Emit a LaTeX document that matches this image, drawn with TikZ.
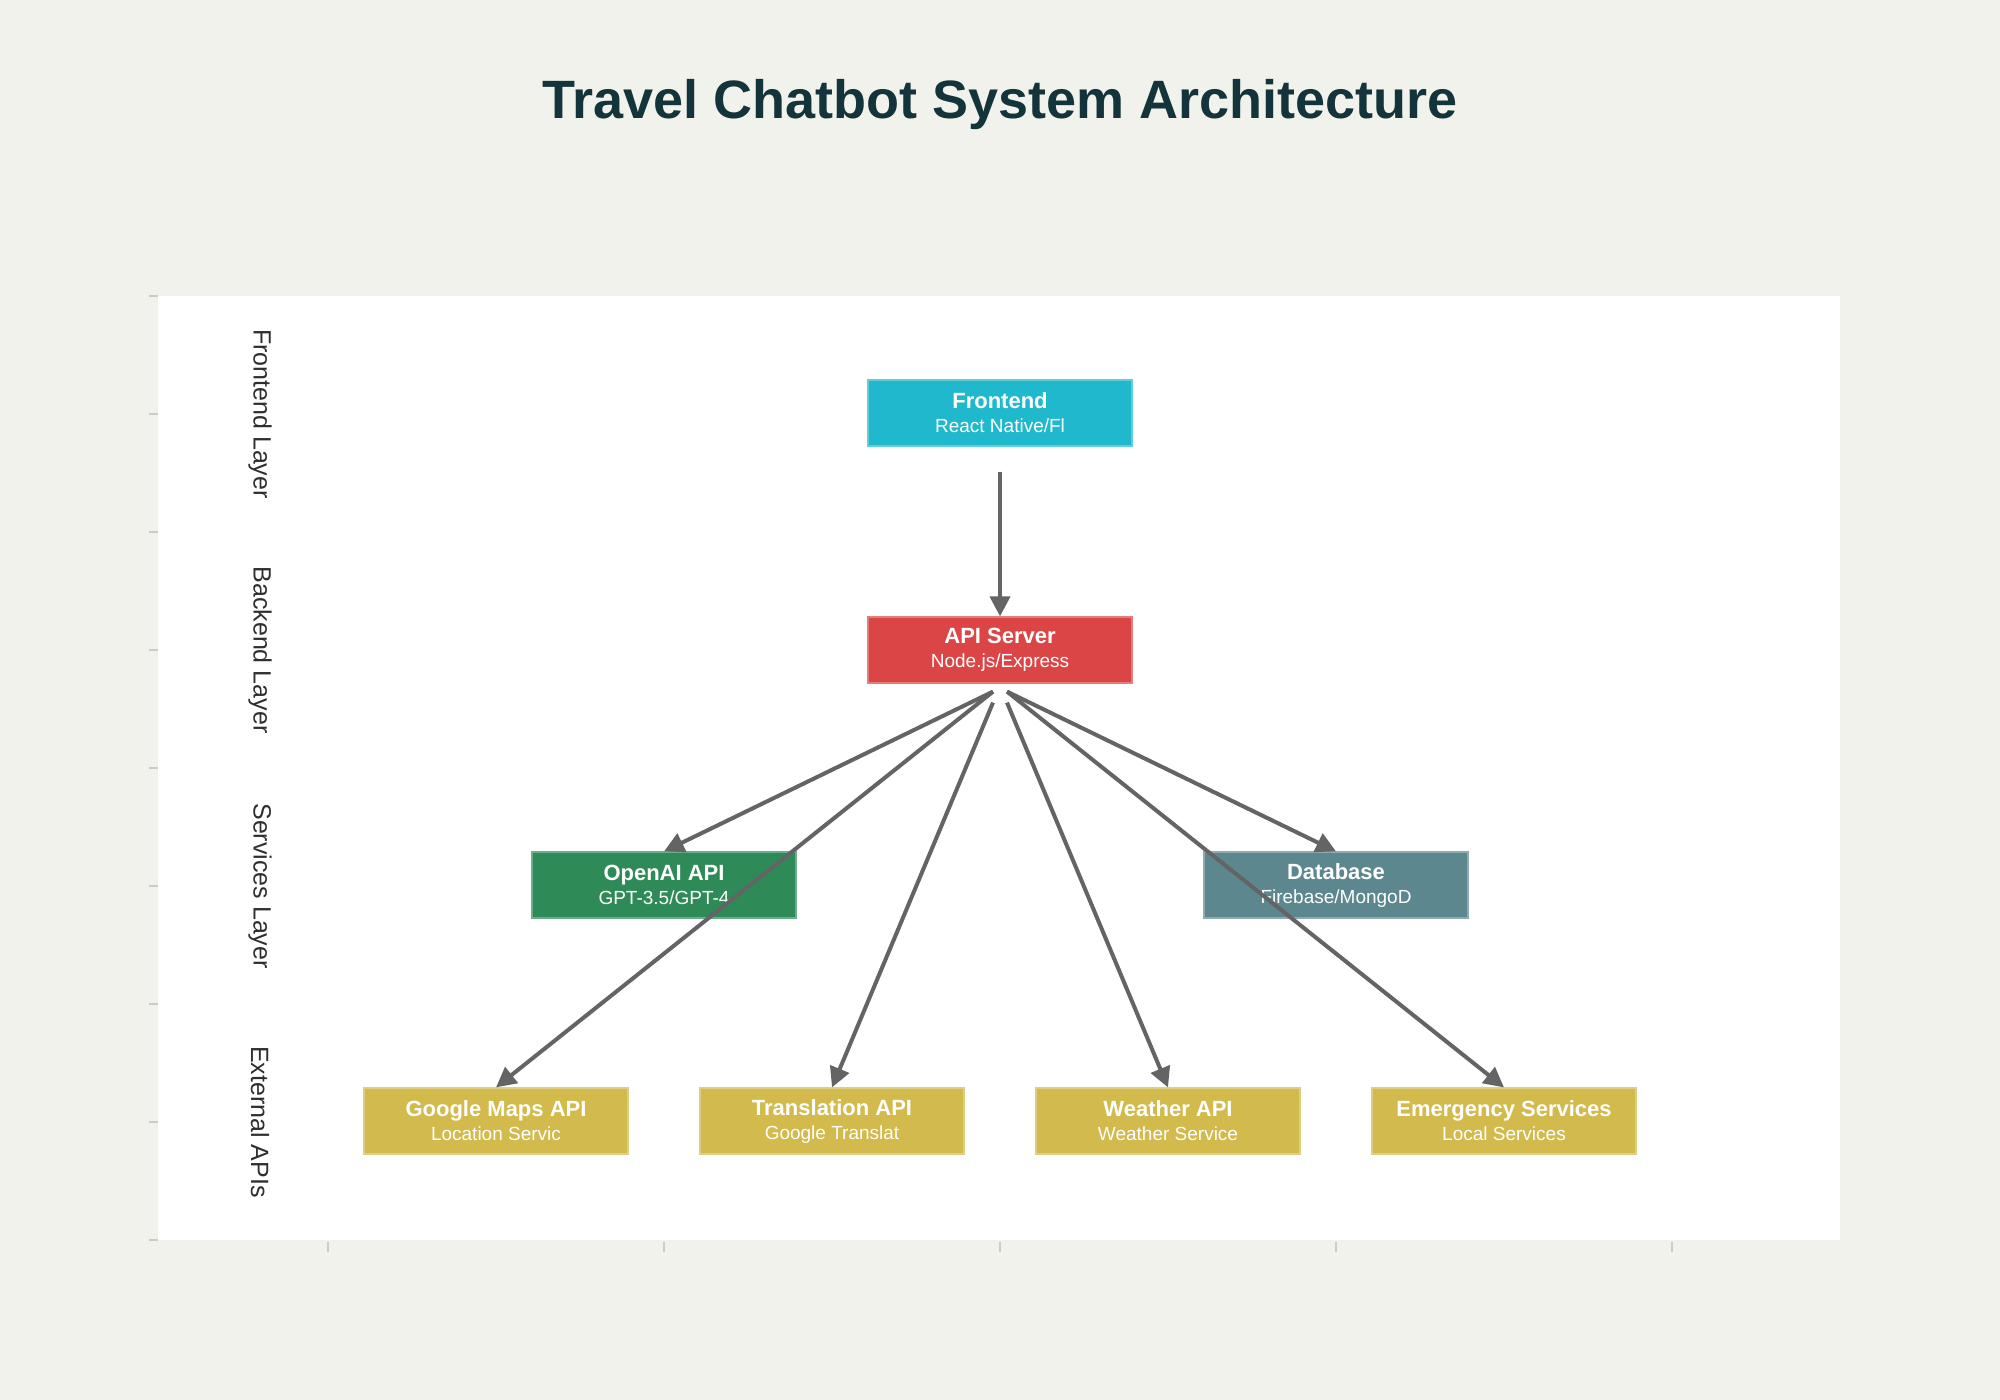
\documentclass[tikz,border=0pt]{standalone}
\usepackage{fontspec}
\setmainfont{Liberation Sans}
\usetikzlibrary{arrows.meta, positioning}
\usepackage{xcolor}

\definecolor{bgcol}{HTML}{F2F2EC}
\definecolor{titlecol}{HTML}{13343B}
\definecolor{cyanbox}{HTML}{1FB8CD}
\definecolor{redbox}{HTML}{DB4545}
\definecolor{greenbox}{HTML}{2E8B57}
\definecolor{slatebox}{HTML}{5D878F}
\definecolor{goldbox}{HTML}{D2BA4C}
\definecolor{arrowgray}{HTML}{646464}
\definecolor{tickgray}{HTML}{CCCCC6}

\newcommand{\blk}[2]{{\fontsize{11}{11}\selectfont\bfseries #1}\\{\fontsize{9.5}{11}\selectfont #2}}

\begin{document}
\begin{tikzpicture}[x=0.5pt, y=-0.5pt,
		box/.style={minimum width=132pt, minimum height=33pt, inner sep=0pt, text=white, align=center, line width=0.6pt},
		layer/.style={rotate=-90, text=black!82, font=\fontsize{12.5}{15}\selectfont},
		link/.style={-{Triangle[length=10pt, width=10pt]}, line width=2pt, draw=arrowgray, fill=arrowgray}]
		\fill[bgcol] (0,0) rectangle (2000,1400);
		\useasboundingbox (0,0) rectangle (2000,1400);
		\fill[white] (158,296) rectangle (1840,1240);
		% axis ticks
		\foreach \k in {0,...,8}
			\draw[tickgray, line width=0.6pt] (149,{296+118*\k}) -- (158,{296+118*\k});
		\foreach \k in {0,...,4}
			\draw[tickgray, line width=0.6pt] ({328+336*\k},1242) -- ({328+336*\k},1252);

		\node[font=\fontsize{27}{32}\selectfont\bfseries, text=titlecol, anchor=base] (title) at (1000,119) {Travel Chatbot System Architecture};

		\node[layer] (lfront) at (260,414) {Frontend Layer};
		\node[layer] (lback) at (260,650) {Backend Layer};
		\node[layer] (lserv) at (260,886) {Services Layer};
		\node[layer] (lext) at (260,1122) {External APIs};

		\node[box, fill=cyanbox, draw=cyanbox!70!white] (front) at (1000,413) {\blk{Frontend}{React Native/Fl}};
		\node[box, fill=redbox, draw=redbox!70!white] (api) at (1000,650) {\blk{API Server}{Node.js/Express}};
		\node[box, fill=greenbox, draw=greenbox!70!white] (openai) at (664,885) {\blk{OpenAI API}{GPT-3.5/GPT-4}};
		\node[box, fill=slatebox, draw=slatebox!70!white] (db) at (1336,885) {\blk{Database}{Firebase/MongoD}};
		\node[box, fill=goldbox, draw=goldbox!70!white] (maps) at (496,1121) {\blk{Google Maps API}{Location Servic}};
		\node[box, fill=goldbox, draw=goldbox!70!white] (transl) at (832,1121) {\blk{Translation API}{Google Translat}};
		\node[box, fill=goldbox, draw=goldbox!70!white] (weather) at (1168,1121) {\blk{Weather API}{Weather Service}};
		\node[box, fill=goldbox, draw=goldbox!70!white] (emerg) at (1504,1121) {\blk{Emergency Services}{Local Services}};

		\draw[link, shorten <=12.5pt] (front.south) -- (api.north);
		\foreach \t in {openai, maps}
			\draw[link] ([xshift=-3.5pt, yshift=-4pt]api.south) -- (\t.north);
		\draw[link] ([xshift=-3.5pt, yshift=-9.5pt]api.south) -- (transl.north);
		\draw[link] ([xshift=3.5pt, yshift=-9.5pt]api.south) -- (weather.north);
		\foreach \t in {db, emerg}
			\draw[link] ([xshift=3.5pt, yshift=-4pt]api.south) -- (\t.north);
\end{tikzpicture}
\end{document}
